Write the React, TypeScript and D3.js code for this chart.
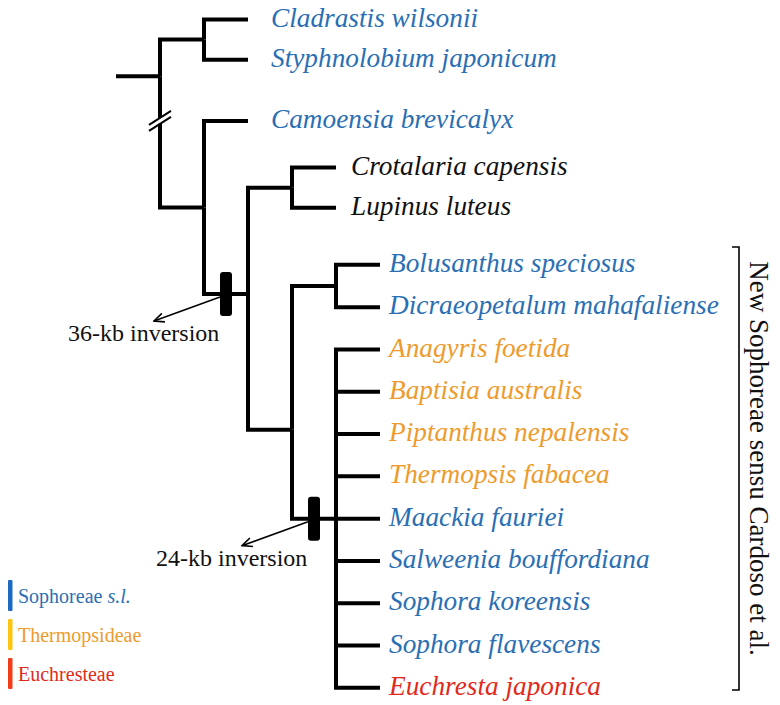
import React from "react";
import * as d3 from "d3";

// ---------- data ----------
const taxa = [
  "Cladrastis wilsonii",
  "Styphnolobium japonicum",
  "Camoensia brevicalyx",
  "Crotalaria capensis",
  "Lupinus luteus",
  "Bolusanthus speciosus",
  "Dicraeopetalum mahafaliense",
  "Anagyris foetida",
  "Baptisia australis",
  "Piptanthus nepalensis",
  "Thermopsis fabacea",
  "Maackia fauriei",
  "Salweenia bouffordiana",
  "Sophora koreensis",
  "Sophora flavescens",
  "Euchresta japonica",
];
const taxonTribe = ["S", "S", "S", "O", "O", "S", "S", "T", "T", "T", "T", "S", "S", "S", "S", "E"];
const taxonRow = [0, 0.95, 2.4, 3.5, 4.45, 5.8, 6.8, 7.8, 8.8, 9.8, 10.8, 11.8, 12.8, 13.8, 14.8, 15.8];

// internal nodes: children are taxon indices or nested clades; optional row for node placement
const cladeTree: any = {
  id: "A",
  row: 1.34,
  children: [
    { id: "B", children: [0, 1] },
    {
      id: "C",
      children: [
        2,
        {
          id: "D",
          row: 6.49,
          children: [
            { id: "E", children: [3, 4] },
            {
              id: "F",
              row: 9.7,
              children: [
                { id: "G", children: [5, 6] },
                { id: "H", children: [7, 8, 9, 10, 11, 12, 13, 14, 15] },
              ],
            },
          ],
        },
      ],
    },
  ],
};

const inversions = [
  { label: "36-kb inversion", node: "D" },
  { label: "24-kb inversion", node: "H" },
];

const legendLabels = ["Sophoreae", "Thermopsideae", "Euchresteae"];
const legendItalic = ["s.l.", "", ""];
const legendTribes = ["S", "T", "E"];
const bracketLabel = "New Sophoreae sensu Cardoso et al.";
const bracketClade = "F";

// ---------- styles ----------
const textColor: Record<string, string> = { S: "#2A6FB4", T: "#EE9B2E", E: "#DF2A1C", O: "#111111" };
const barColor: Record<string, string> = { S: "#1C6BC0", T: "#FFC412", E: "#F23C1A" };
const FONT = '"Liberation Serif", Tinos, "Times New Roman", serif';

const W = 780;
const H = 705;

export default function App() {
  const x = d3.scaleLinear().domain([-1, 5]).range([116, 380]);
  const y = d3.scaleLinear().domain([0, 1]).range([19.5, 61.8]);

  const toNode = (c: any): any =>
    typeof c === "number"
      ? { id: taxa[c], leaf: c, row: taxonRow[c] }
      : { id: c.id, row: c.row, children: c.children.map(toNode) };
  const root = d3.hierarchy(toNode(cladeTree));

  const pos = new Map<any, { x: number; y: number }>();
  root.eachAfter((n: any) => {
    let yy: number;
    if (n.data.leaf !== undefined || n.data.row !== undefined) yy = y(n.data.row);
    else {
      const ch = n.children!;
      yy = (pos.get(ch[0])!.y + pos.get(ch[ch.length - 1])!.y) / 2;
    }
    pos.set(n, { x: x(n.depth), y: yy });
  });

  const links = root.links().map((l: any) => {
    const s = pos.get(l.source)!;
    const t = pos.get(l.target)!;
    return `M${s.x},${s.y}V${t.y}H${t.x}`;
  });
  const rootPos = pos.get(root)!;

  const leaves = root.leaves();
  const gapByDepth: Record<number, number> = { 2: 23, 4: 15, 5: 9 };

  const byId = (id: string) => root.descendants().find((n: any) => n.data.id === id)!;

  const invMarks = inversions.map((inv) => {
    const n: any = byId(inv.node);
    const p = pos.get(n.parent)!;
    const c = pos.get(n)!;
    const cx = (p.x + c.x) / 2;
    const cy = c.y;
    const sx = cx - 6;
    const sy = cy + 3;
    const ex = sx - 66;
    const ey = sy + 24;
    return { ...inv, cx, cy, sx, sy, ex, ey };
  });

  // break mark on root's vertical line
  const brk = { x: rootPos.x, y: y(2.35) };

  // bracket
  const bNode: any = byId(bracketClade);
  const bLeaves = bNode.leaves();
  const bTop = y(bLeaves[0].data.row - 0.42);
  const bBot = y(bLeaves[bLeaves.length - 1].data.row + 0.05);
  const bX = 739;

  return (
    <svg
      width={W}
      height={H}
      viewBox={`0 0 ${W} ${H}`}
      style={{ position: "absolute", left: 0, top: 0, background: "#fff", fontFamily: FONT }}
    >
      <defs>
        <marker id="arrow" viewBox="0 0 12 12" refX="11" refY="6" markerWidth="12" markerHeight="12" markerUnits="userSpaceOnUse" orient="auto">
          <path d="M1,1.5 L11,6 L1,10.5" fill="none" stroke="#000" strokeWidth={1.6} />
        </marker>
      </defs>
      <rect width={W} height={H} fill="#fff" />

      {/* tree */}
      <g fill="none" stroke="#000" strokeWidth={4} strokeLinejoin="miter">
        <path d={`M${x(-1)},${rootPos.y}H${rootPos.x}`} />
        {links.map((d, i) => (
          <path key={i} d={d} />
        ))}
      </g>

      {/* break mark */}
      <g>
        <rect x={brk.x - 3} y={brk.y - 1} width={6} height={6} fill="#fff" />
        <line x1={brk.x - 11} y1={brk.y + 6} x2={brk.x + 11} y2={brk.y - 8} stroke="#000" strokeWidth={2} />
        <line x1={brk.x - 11} y1={brk.y + 12} x2={brk.x + 11} y2={brk.y - 2} stroke="#000" strokeWidth={2} />
      </g>

      {/* inversion markers */}
      {invMarks.map((m) => (
        <g key={m.label}>
          <line x1={m.sx} y1={m.sy} x2={m.ex} y2={m.ey} stroke="#000" strokeWidth={1.6} markerEnd="url(#arrow)" />
          <rect x={m.cx - 6} y={m.cy - 22} width={12} height={44} rx={3} fill="#000" />
          <text x={m.ex - 86} y={m.ey + 20} fontSize={24} fill="#111" style={{ fontFamily: FONT }}>
            {m.label}
          </text>
        </g>
      ))}

      {/* leaf labels */}
      {leaves.map((l: any) => {
        const p = pos.get(l)!;
        const idx = l.data.leaf;
        return (
          <text
            key={l.data.id}
            x={p.x + (gapByDepth[l.depth] ?? 12)}
            y={p.y}
            dy="0.26em"
            fontSize={27.3}
            fill={textColor[taxonTribe[idx]]}
            style={{ fontFamily: FONT, fontStyle: "italic" }}
          >
            {taxa[idx]}
          </text>
        );
      })}

      {/* bracket */}
      <path d={`M${bX - 7},${bTop}H${bX}V${bBot}H${bX - 7}`} fill="none" stroke="#000" strokeWidth={1.6} />
      <text
        transform={`translate(${bX + 11},${(bTop + bBot) / 2 - 10}) rotate(90)`}
        textAnchor="middle"
        fontSize={27}
        fill="#111"
        style={{ fontFamily: FONT }}
      >
        {bracketLabel}
      </text>

      {/* legend */}
      {legendLabels.map((lab, i) => {
        const top = 580 + i * 39;
        return (
          <g key={lab}>
            <rect x={8} y={top} width={4.5} height={31} rx={1} fill={barColor[legendTribes[i]]} />
            <text x={18} y={top + 23} fontSize={20} fill={textColor[legendTribes[i]]} style={{ fontFamily: FONT }}>
              {lab}
              {legendItalic[i] ? (
                <tspan style={{ fontStyle: "italic" }}>{" " + legendItalic[i]}</tspan>
              ) : null}
            </text>
          </g>
        );
      })}
    </svg>
  );
}
